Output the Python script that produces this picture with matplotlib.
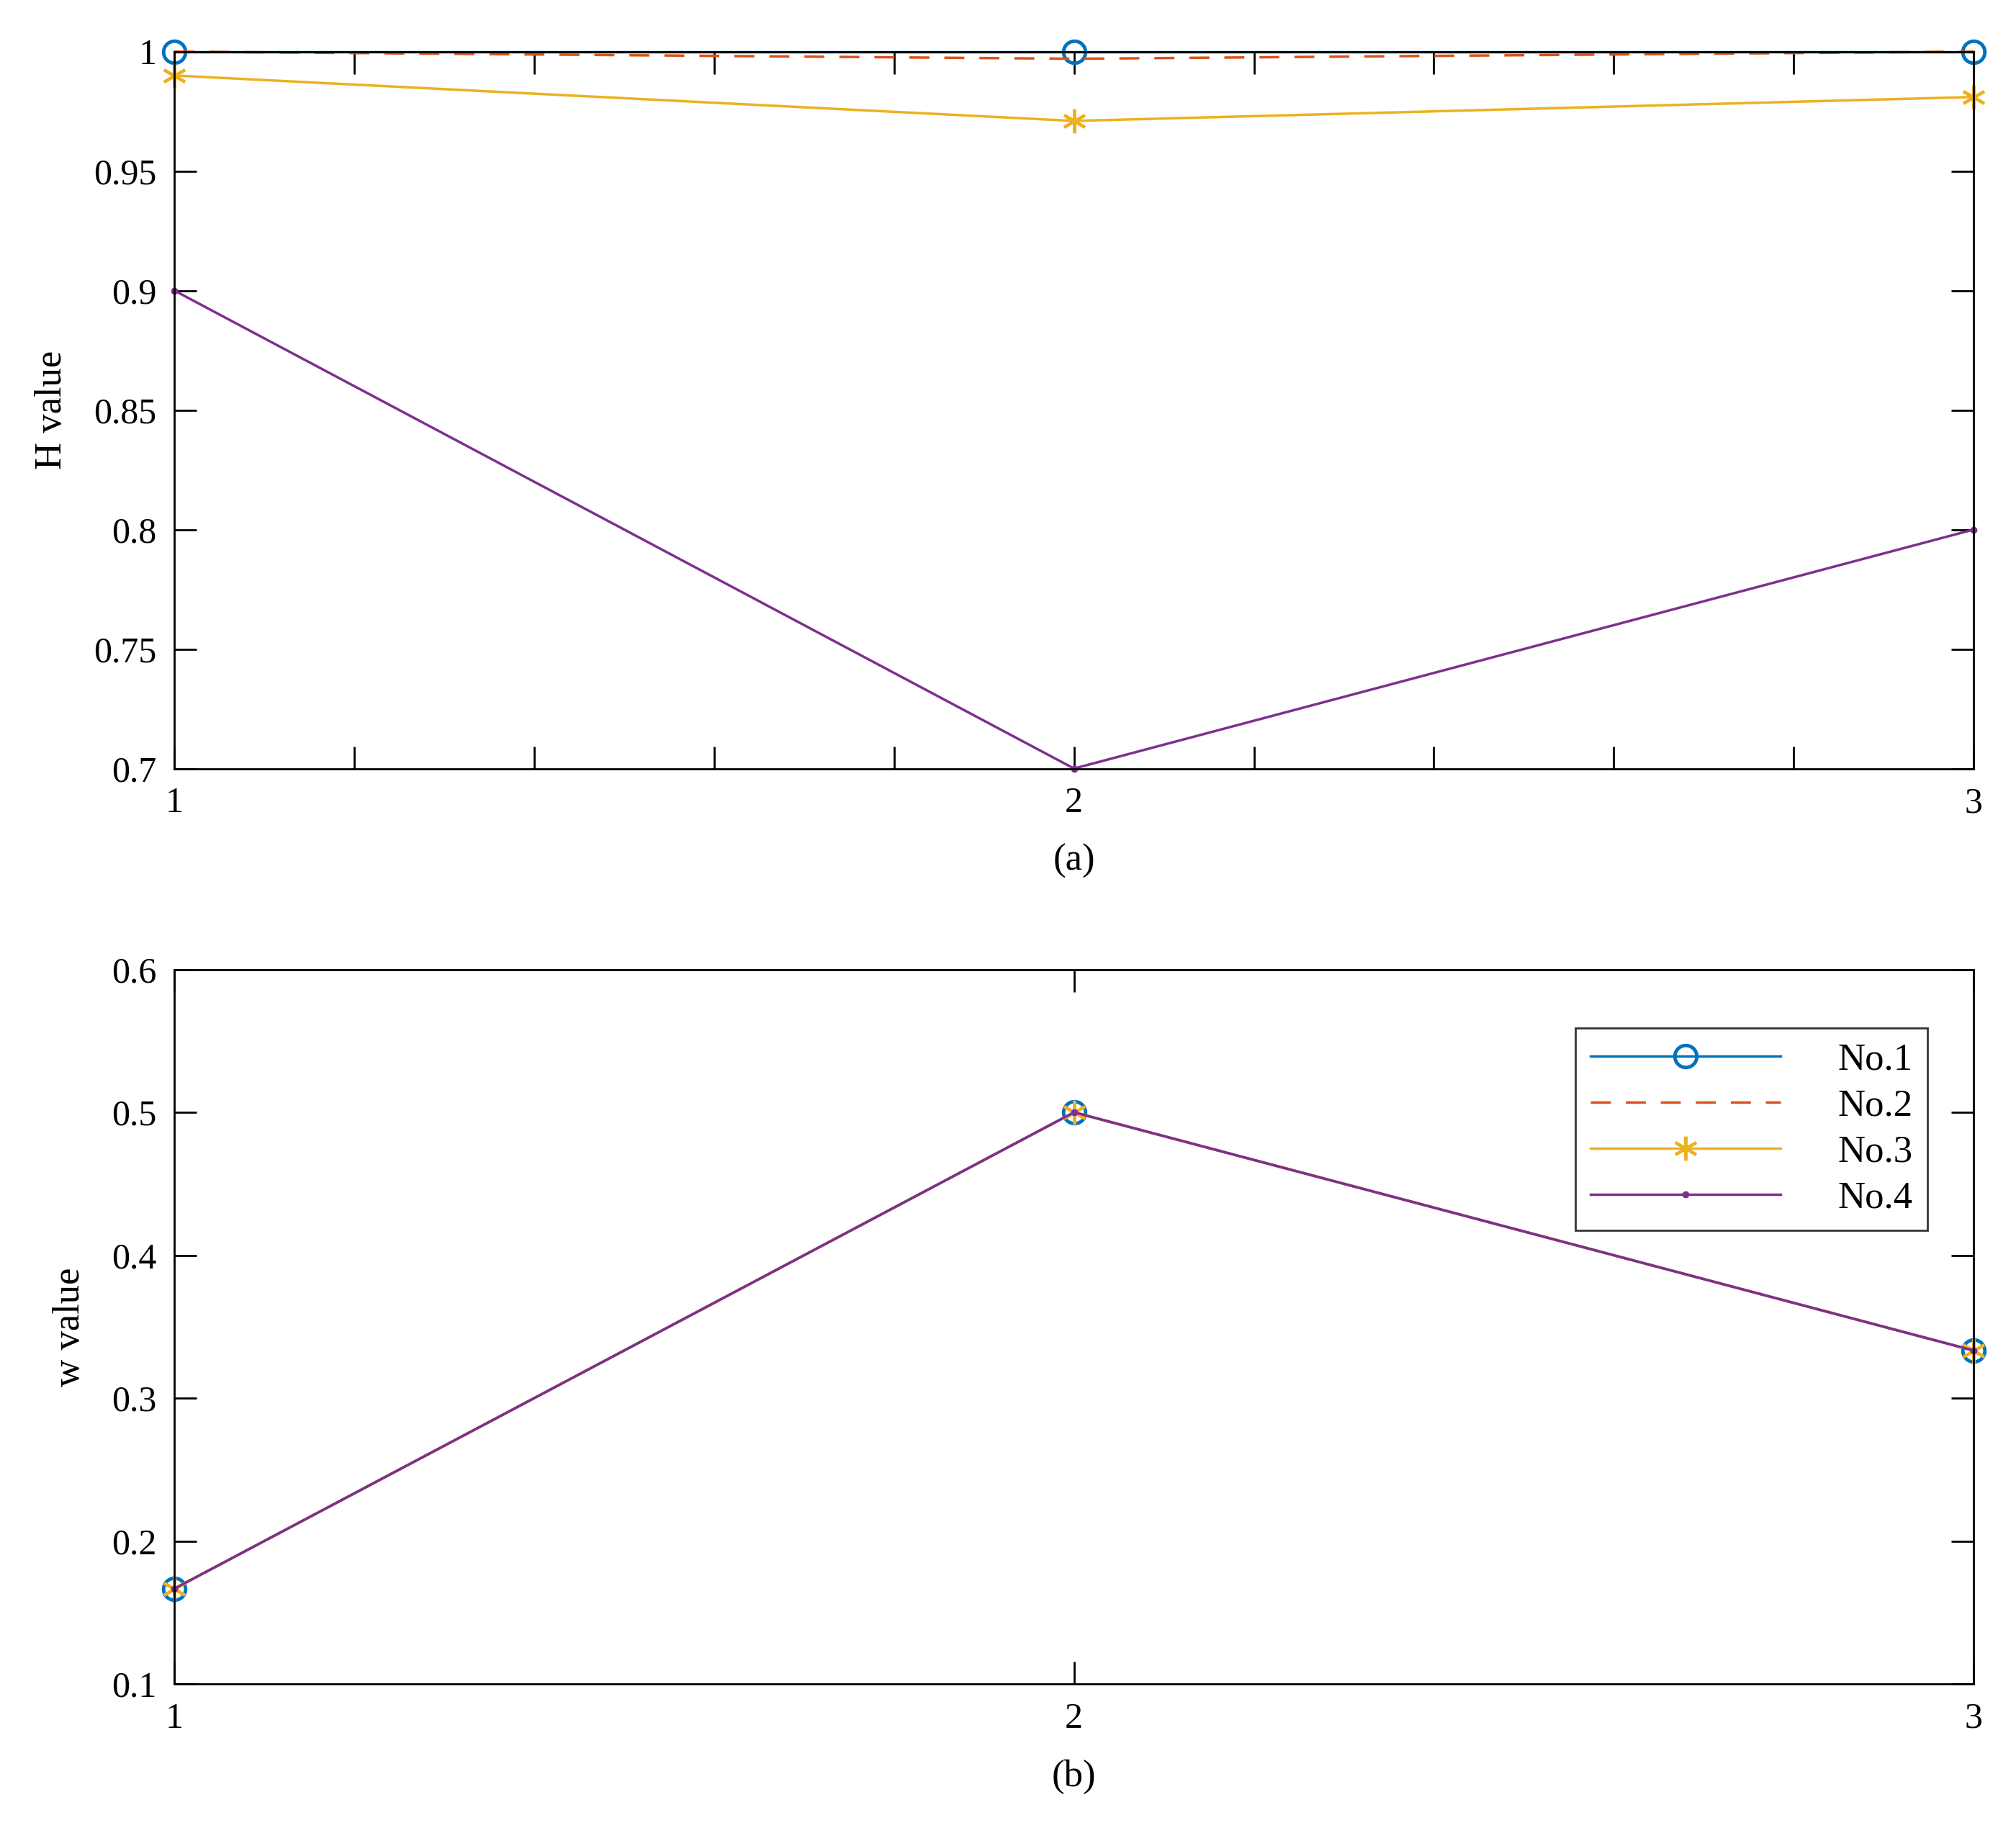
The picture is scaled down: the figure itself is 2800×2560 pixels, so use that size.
import numpy as np
import matplotlib.pyplot as plt

plt.rcParams['font.family'] = ['Liberation Serif', 'DejaVu Serif']

x = [1, 2, 3]
names = ['No.1', 'No.2', 'No.3', 'No.4']
h_no1 = [1.0, 1.0, 1.0]
h_no2 = [1.0, 0.997, 1.0]
h_no3 = [0.990, 0.971, 0.981]
h_no4 = [0.9, 0.7, 0.8]
w_no1 = [0.1667, 0.5, 0.3333]
w_no2 = [0.1667, 0.5, 0.3333]
w_no3 = [0.1667, 0.5, 0.3333]
w_no4 = [0.1667, 0.5, 0.3333]

colors = ['#0072BD', '#D95319', '#EDB120', '#7E2F8E']
styles = [dict(ls='-', marker='o', ms=22, mfc='none', mew=3.5),
          dict(ls=(0, (8, 6)), marker=None),
          dict(ls='-', marker=(6, 2, 0), ms=24, mew=3),
          dict(ls='-', marker='.', ms=12)]

fig = plt.figure(figsize=(28, 25.6), dpi=100)
ax1 = fig.add_axes([0.0865, 0.583, 0.8925, 0.389])
ax2 = fig.add_axes([0.0865, 0.0863, 0.8925, 0.3877])

for ax, series in [(ax1, [h_no1, h_no2, h_no3, h_no4]), (ax2, [w_no1, w_no2, w_no3, w_no4])]:
    for s, c, st, n in zip(series, colors, styles, names):
        ax.plot(x, s, color=c, lw=2.5, label=n, clip_on=False, **st)
    ax.set_xlim(1, 3)
    ax.tick_params(direction='in', top=True, right=True, labelsize=36, length=22, width=2, pad=18)
    for sp in ax.spines.values():
        sp.set_linewidth(2)

ax1.set_ylim(0.7, 1.0)
ax1.set_yticks(np.arange(0.7, 1.001, 0.05))
ax1.set_yticklabels(['0.7', '0.75', '0.8', '0.85', '0.9', '0.95', '1'])
ax1.set_xticks(np.arange(1, 3.001, 0.2))
ax1.set_xticklabels(['1', '', '', '', '', '2', '', '', '', '', '3'])
ax1.set_ylabel('H value', fontsize=38, labelpad=24)
ax1.set_xlabel('(a)', fontsize=38, labelpad=24)

ax2.set_ylim(0.1, 0.6)
ax2.set_yticks(np.arange(0.1, 0.601, 0.1))
ax2.set_yticklabels(['0.1', '0.2', '0.3', '0.4', '0.5', '0.6'])
ax2.set_xticks([1, 2, 3])
ax2.set_ylabel('w value', fontsize=38, labelpad=24)
ax2.set_xlabel('(b)', fontsize=38, labelpad=24)
leg = ax2.legend(loc='upper right', bbox_to_anchor=(0.985, 0.945), fontsize=38, frameon=True,
                 fancybox=False, edgecolor='black', handlelength=5,
                 borderpad=0.4, labelspacing=0.3, handletextpad=1.5)
leg.get_frame().set_linewidth(2)

fig.savefig('out.png', dpi=100, facecolor='white')
